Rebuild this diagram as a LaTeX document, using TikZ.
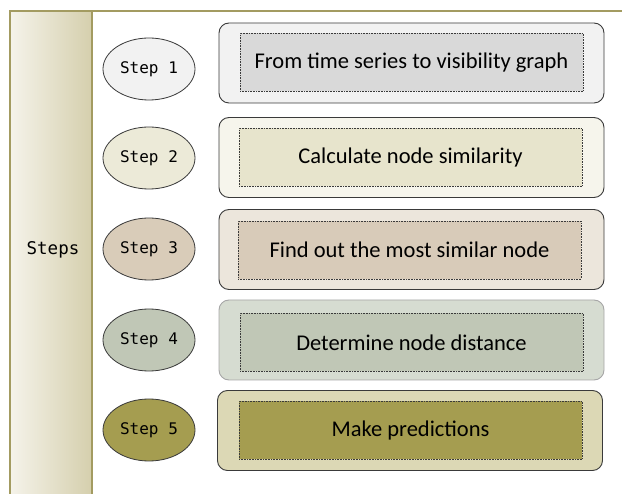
\documentclass[tikz,border=0pt]{standalone}
\usepackage{fontspec}
\setmainfont{Carlito}
\newfontfamily\stepfont{DejaVu Sans Mono}
\usetikzlibrary{shapes.geometric}
\definecolor{olive}{HTML}{A39B61}
\definecolor{colL}{HTML}{F5F3EA}
\definecolor{colR}{HTML}{D5CFAD}
\definecolor{eA}{HTML}{F2F2F2}\definecolor{oA}{HTML}{F2F2F2}\definecolor{iA}{HTML}{D9D9D9}
\definecolor{eB}{HTML}{ECEAD8}\definecolor{oB}{HTML}{F6F5EC}\definecolor{iB}{HTML}{E7E4CC}
\definecolor{eC}{HTML}{D9CCB9}\definecolor{oC}{HTML}{ECE6DC}\definecolor{iC}{HTML}{D8CBB9}
\definecolor{eD}{HTML}{C0C7B6}\definecolor{oD}{HTML}{D6DCD1}\definecolor{iD}{HTML}{C0C7B6}
\definecolor{eE}{HTML}{A59D50}\definecolor{oE}{HTML}{DCD8B5}\definecolor{iE}{HTML}{A59D50}
\definecolor{dk}{HTML}{3A3A3A}
\tikzset{
  stepell/.style={ellipse, draw=dk, line width=0.8pt, minimum width=92pt, minimum height=62pt, inner sep=0pt, font=\stepfont\fontsize{16}{18}\selectfont},
  outerbox/.style={rectangle, rounded corners=10pt, draw=dk, line width=0.9pt, minimum width=385pt, minimum height=80pt, inner sep=0pt},
  innerbox/.style={rectangle, draw=dk, densely dotted, line width=0.6pt, minimum width=343pt, minimum height=58pt, inner sep=0pt, font=\fontsize{22.5}{25}\selectfont}
}
\begin{document}
\begin{tikzpicture}[x=1pt,y=-1pt]
\useasboundingbox (0,0) rectangle (622,494);
% left column
\fill[left color=colL, right color=colR] (10,11) rectangle (92,496);
\draw[olive, line width=1.5pt] (10,496) -- (10,11) (92,11) -- (92,496);
\draw[olive, line width=2.5pt] (9,11) -- (622,11);
\node[font=\stepfont\fontsize{17.5}{19}\selectfont] (steps) at (53,250) {Steps};
% steps
\node[stepell, fill=eA] (s1) at (149,69) {Step 1};
\node[stepell, fill=eB] (s2) at (149,158) {Step 2};
\node[stepell, fill=eC] (s3) at (149,249) {Step 3};
\node[stepell, fill=eD] (s4) at (149,340) {Step 4};
\node[stepell, fill=eE] (s5) at (149,430) {Step 5};
% boxes
\node[outerbox, fill=oA] (b1) at (411.5,63) {};
\node[innerbox, fill=iA] (t1) at (411.5,62.5) {From time series to visibility graph};
\node[outerbox, fill=oB] (b2) at (411.5,157.5) {};
\node[innerbox, fill=iB] (t2) at (410.5,157.5) {Calculate node similarity};
\node[outerbox, fill=oC] (b3) at (411.5,249.5) {};
\node[innerbox, fill=iC] (t3) at (409.5,250) {Find out the most similar node};
\node[outerbox, fill=oD, draw=gray!70] (b4) at (411.5,340) {};
\node[innerbox, fill=iD] (t4) at (411.5,342.5) {Determine node distance};
\node[outerbox, fill=oE] (b5) at (410,430.5) {};
\node[innerbox, fill=iE] (t5) at (410.5,430.5) {Make predictions};
\end{tikzpicture}
\end{document}
